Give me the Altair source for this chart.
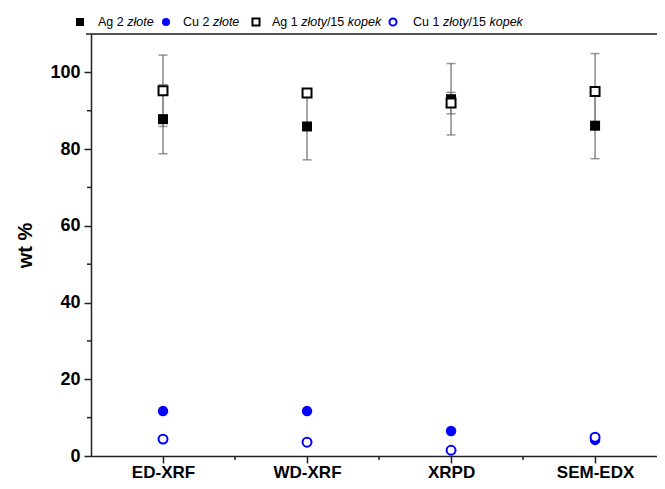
import altair as alt
import pandas as pd

methods = ["ED-XRF", "WD-XRF", "XRPD", "SEM-EDX"]
positions = [1, 2, 3, 4]

ag2_val = [87.8, 85.9, 93.0, 86.1]
ag2_err = [9.0, 8.7, 9.3, 8.6]
cu2_val = [11.7, 11.7, 6.5, 4.2]
cu2_err = [0.3, 0.3, 0.2, 0.3]
ag1_val = [95.2, 94.6, 92.0, 95.0]
ag1_err = [9.3, 0.5, 2.8, 9.9]
cu1_val = [4.4, 3.6, 1.5, 4.9]
cu1_err = [0.3, 0.3, 0.3, 0.3]

series = {
    "ag2": (ag2_val, ag2_err),
    "cu2": (cu2_val, cu2_err),
    "ag1": (ag1_val, ag1_err),
    "cu1": (cu1_val, cu1_err),
}

rows = []
for key, (vals, errs) in series.items():
    for p, m, v, e in zip(positions, methods, vals, errs):
        rows.append({"series": key, "pos": p, "method": m, "val": v,
                     "lo": v - e, "hi": v + e})
df = pd.DataFrame(rows)

W, H = 566, 422
FONT = "Liberation Sans"

xscale = alt.Scale(domain=[0.5, 4.43], nice=False, zero=False)
yscale = alt.Scale(domain=[0, 110], nice=False)

label_expr = "{1:'ED-XRF',2:'WD-XRF',3:'XRPD',4:'SEM-EDX'}[datum.value]"

xax = alt.Axis(values=positions, labelExpr=label_expr, title=None, grid=False,
               labelFont=FONT, labelFontSize=17, labelFontWeight="bold",
               labelColor="black", labelPadding=1, tickSize=7, tickWidth=1.5,
               tickColor="#222", domainColor="#222", domainWidth=1.5)
yax = alt.Axis(values=[0, 20, 40, 60, 80, 100], title="wt %", grid=False,
               labelFont=FONT, labelFontSize=18, labelFontWeight="bold",
               labelColor="black", labelPadding=4, tickSize=7, tickWidth=1.5,
               tickColor="#222", domainColor="#222", domainWidth=1.5,
               titleFont=FONT, titleFontSize=20, titleFontWeight="bold",
               titleColor="black", titlePadding=14)

base = alt.Chart(df)

axes_layer = base.mark_point(opacity=0).encode(
    x=alt.X("pos:Q", scale=xscale, axis=xax),
    y=alt.Y("val:Q", scale=yscale, axis=yax),
)

err_rule = base.mark_rule(color="#8a8a8a", strokeWidth=1.5).encode(
    x="pos:Q", y="lo:Q", y2="hi:Q")
cap_lo = base.mark_tick(orient="horizontal", size=9, thickness=1.5, color="#6a6a6a").encode(
    x="pos:Q", y="lo:Q")
cap_hi = base.mark_tick(orient="horizontal", size=9, thickness=1.5, color="#6a6a6a").encode(
    x="pos:Q", y="hi:Q")


def pts(key, shape, filled, color, size):
    d = base.transform_filter(alt.datum.series == key)
    if filled:
        m = d.mark_point(shape=shape, filled=True, color=color, size=size, opacity=1)
    else:
        m = d.mark_point(shape=shape, filled=False, fill="white", fillOpacity=1,
                         stroke=color, strokeWidth=2, size=size, opacity=1)
    return m.encode(x="pos:Q", y="val:Q")


p_ag2 = pts("ag2", "square", True, "black", 100)
p_cu2 = pts("cu2", "circle", True, "#0000ff", 110)
p_ag1 = pts("ag1", "square", False, "black", 80)
p_cu1 = pts("cu1", "circle", False, "#0000ff", 80)

# minor ticks
minor_x_vals = [1.5, 2.5, 3.5]
minor_y_vals = [10, 30, 50, 70, 90]
mx = alt.Chart(pd.DataFrame({"m": minor_x_vals})).mark_rule(color="#222", strokeWidth=1.5).encode(
    x="m:Q", y=alt.value(H), y2=alt.value(H + 4))
my = alt.Chart(pd.DataFrame({"m": minor_y_vals})).mark_rule(color="#222", strokeWidth=1.5).encode(
    y="m:Q", x=alt.value(-4), x2=alt.value(0))

top_line = alt.Chart(pd.DataFrame({"a": [0]})).mark_rule(color="#222", strokeWidth=1.5).encode(
    y=alt.value(0), x=alt.value(-5), x2=alt.value(W))

# legend
LY = -12
LFS = 12.5
leg_df = pd.DataFrame({"a": [0]})
legc = alt.Chart(leg_df)


def lmark(x, shape, filled, color):
    if filled:
        m = legc.mark_point(shape=shape, filled=True, color=color, size=64, opacity=1)
    else:
        m = legc.mark_point(shape=shape, filled=False, stroke=color, strokeWidth=2,
                            size=50, opacity=1)
    return m.encode(x=alt.value(x), y=alt.value(LY))


def ltext(x, txt, italic=False):
    return legc.mark_text(text=txt, align="left", baseline="middle", font=FONT,
                          fontSize=LFS, fontStyle="italic" if italic else "normal",
                          color="black").encode(x=alt.value(x), y=alt.value(LY))


legend_items = [
    lmark(-11, "square", True, "black"),
    ltext(7, "Ag 2 "), ltext(7 + 29.2, "złote", True),
    lmark(75, "circle", True, "#0000ff"),
    ltext(92, "Cu 2 "), ltext(92 + 29.9, "złote", True),
    lmark(165, "square", False, "black"),
    ltext(181, "Ag 1 "), ltext(181 + 29.2, "złoty", True),
    ltext(181 + 29.2 + 25.7, "/15 "), ltext(181 + 29.2 + 25.7 + 20.9, "kopek", True),
    lmark(302, "circle", False, "#0000ff"),
    ltext(322, "Cu 1 "), ltext(322 + 29.2 + 0.7, "złoty", True),
    ltext(322 + 29.9 + 25.7, "/15 "), ltext(322 + 29.9 + 25.7 + 20.9, "kopek", True),
]

chart = alt.layer(
    axes_layer, mx, my, top_line, err_rule, cap_lo, cap_hi,
    p_ag2, p_ag1, p_cu2, p_cu1, *legend_items
).properties(
    width=W, height=H,
    autosize=alt.AutoSizeParams(type="none"),
    padding={"left": 83, "top": 26, "right": 0, "bottom": 25},
).configure_view(stroke=None).configure(background="white")

chart.save("out.html", embed_options={"renderer": "svg", "actions": False})
